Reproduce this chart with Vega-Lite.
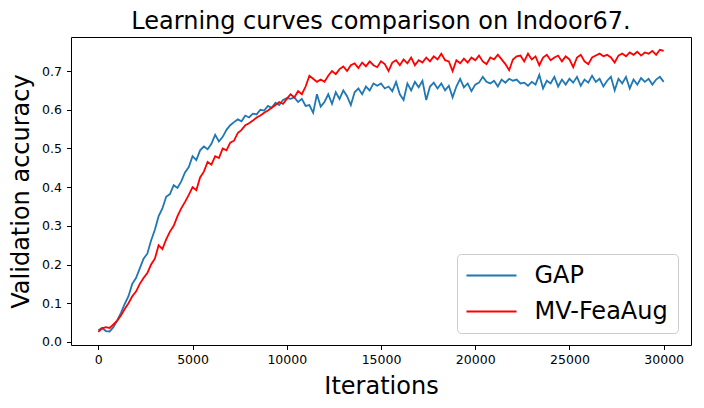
{
  "$schema": "https://vega.github.io/schema/vega-lite/v6.json",
  "autosize": {"type": "none"},
  "padding": {"left": 71, "top": 37, "right": 13, "bottom": 63},
  "width": 620,
  "height": 308,
  "background": "white",
  "title": {
    "text": "Learning curves comparison on Indoor67.",
    "font": "DejaVu Sans",
    "fontSize": 24,
    "fontWeight": "normal",
    "color": "black",
    "anchor": "middle",
    "frame": "group",
    "offset": 3
  },
  "config": {
    "view": {"stroke": "black", "strokeWidth": 1},
    "axis": {
      "domain": false,
      "grid": false,
      "ticks": true,
      "tickColor": "black",
      "tickSize": 4.5,
      "tickWidth": 1,
      "labelFont": "DejaVu Sans",
      "labelFontSize": 12.5,
      "labelColor": "black",
      "titleFont": "DejaVu Sans",
      "titleFontSize": 24,
      "titleFontWeight": "normal",
      "titleColor": "black"
    },
    "legend": {
      "orient": "none",
      "legendX": 386,
      "legendY": 217,
      "padding": 9.5,
      "fillColor": "white",
      "strokeColor": "#cccccc",
      "cornerRadius": 4,
      "symbolType": "M-5,0H5",
      "symbolSize": 100,
      "symbolStrokeWidth": 2,
      "symbolOffset": 13,
      "labelFont": "DejaVu Sans",
      "labelFontSize": 24,
      "labelColor": "black",
      "labelOffset": 31,
      "rowPadding": 12
    }
  },
  "data": {
    "values": [
      {"iteration": 0, "GAP": 0.030, "MV-FeaAug": 0.026},
      {"iteration": 200, "GAP": 0.036, "MV-FeaAug": 0.035},
      {"iteration": 400, "GAP": 0.028, "MV-FeaAug": 0.038},
      {"iteration": 600, "GAP": 0.027, "MV-FeaAug": 0.036},
      {"iteration": 800, "GAP": 0.038, "MV-FeaAug": 0.045},
      {"iteration": 1000, "GAP": 0.055, "MV-FeaAug": 0.055},
      {"iteration": 1200, "GAP": 0.075, "MV-FeaAug": 0.068},
      {"iteration": 1400, "GAP": 0.098, "MV-FeaAug": 0.085},
      {"iteration": 1600, "GAP": 0.118, "MV-FeaAug": 0.100},
      {"iteration": 1800, "GAP": 0.150, "MV-FeaAug": 0.118},
      {"iteration": 2000, "GAP": 0.165, "MV-FeaAug": 0.130},
      {"iteration": 2200, "GAP": 0.190, "MV-FeaAug": 0.150},
      {"iteration": 2400, "GAP": 0.215, "MV-FeaAug": 0.165},
      {"iteration": 2600, "GAP": 0.228, "MV-FeaAug": 0.178},
      {"iteration": 2800, "GAP": 0.262, "MV-FeaAug": 0.200},
      {"iteration": 3000, "GAP": 0.290, "MV-FeaAug": 0.215},
      {"iteration": 3200, "GAP": 0.325, "MV-FeaAug": 0.250},
      {"iteration": 3400, "GAP": 0.345, "MV-FeaAug": 0.240},
      {"iteration": 3600, "GAP": 0.375, "MV-FeaAug": 0.265},
      {"iteration": 3800, "GAP": 0.382, "MV-FeaAug": 0.285},
      {"iteration": 4000, "GAP": 0.405, "MV-FeaAug": 0.300},
      {"iteration": 4200, "GAP": 0.398, "MV-FeaAug": 0.325},
      {"iteration": 4400, "GAP": 0.415, "MV-FeaAug": 0.345},
      {"iteration": 4600, "GAP": 0.438, "MV-FeaAug": 0.362},
      {"iteration": 4800, "GAP": 0.452, "MV-FeaAug": 0.380},
      {"iteration": 5000, "GAP": 0.480, "MV-FeaAug": 0.400},
      {"iteration": 5200, "GAP": 0.470, "MV-FeaAug": 0.392},
      {"iteration": 5400, "GAP": 0.495, "MV-FeaAug": 0.425},
      {"iteration": 5600, "GAP": 0.505, "MV-FeaAug": 0.440},
      {"iteration": 5800, "GAP": 0.498, "MV-FeaAug": 0.465},
      {"iteration": 6000, "GAP": 0.512, "MV-FeaAug": 0.458},
      {"iteration": 6200, "GAP": 0.535, "MV-FeaAug": 0.480},
      {"iteration": 6400, "GAP": 0.518, "MV-FeaAug": 0.475},
      {"iteration": 6600, "GAP": 0.530, "MV-FeaAug": 0.500},
      {"iteration": 6800, "GAP": 0.548, "MV-FeaAug": 0.495},
      {"iteration": 7000, "GAP": 0.560, "MV-FeaAug": 0.515},
      {"iteration": 7200, "GAP": 0.568, "MV-FeaAug": 0.520},
      {"iteration": 7400, "GAP": 0.575, "MV-FeaAug": 0.540},
      {"iteration": 7600, "GAP": 0.570, "MV-FeaAug": 0.548},
      {"iteration": 7800, "GAP": 0.585, "MV-FeaAug": 0.560},
      {"iteration": 8000, "GAP": 0.580, "MV-FeaAug": 0.565},
      {"iteration": 8200, "GAP": 0.590, "MV-FeaAug": 0.572},
      {"iteration": 8400, "GAP": 0.588, "MV-FeaAug": 0.580},
      {"iteration": 8600, "GAP": 0.600, "MV-FeaAug": 0.585},
      {"iteration": 8800, "GAP": 0.598, "MV-FeaAug": 0.592},
      {"iteration": 9000, "GAP": 0.610, "MV-FeaAug": 0.598},
      {"iteration": 9200, "GAP": 0.605, "MV-FeaAug": 0.605},
      {"iteration": 9400, "GAP": 0.618, "MV-FeaAug": 0.612},
      {"iteration": 9600, "GAP": 0.612, "MV-FeaAug": 0.620},
      {"iteration": 9800, "GAP": 0.625, "MV-FeaAug": 0.615},
      {"iteration": 10000, "GAP": 0.630, "MV-FeaAug": 0.628},
      {"iteration": 10200, "GAP": 0.628, "MV-FeaAug": 0.640},
      {"iteration": 10400, "GAP": 0.632, "MV-FeaAug": 0.632},
      {"iteration": 10600, "GAP": 0.620, "MV-FeaAug": 0.648},
      {"iteration": 10800, "GAP": 0.628, "MV-FeaAug": 0.640},
      {"iteration": 11000, "GAP": 0.610, "MV-FeaAug": 0.660},
      {"iteration": 11200, "GAP": 0.612, "MV-FeaAug": 0.688},
      {"iteration": 11400, "GAP": 0.592, "MV-FeaAug": 0.680},
      {"iteration": 11600, "GAP": 0.640, "MV-FeaAug": 0.672},
      {"iteration": 11800, "GAP": 0.608, "MV-FeaAug": 0.678},
      {"iteration": 12000, "GAP": 0.620, "MV-FeaAug": 0.672},
      {"iteration": 12200, "GAP": 0.640, "MV-FeaAug": 0.688},
      {"iteration": 12400, "GAP": 0.615, "MV-FeaAug": 0.700},
      {"iteration": 12600, "GAP": 0.645, "MV-FeaAug": 0.692},
      {"iteration": 12800, "GAP": 0.628, "MV-FeaAug": 0.705},
      {"iteration": 13000, "GAP": 0.650, "MV-FeaAug": 0.712},
      {"iteration": 13200, "GAP": 0.635, "MV-FeaAug": 0.700},
      {"iteration": 13400, "GAP": 0.612, "MV-FeaAug": 0.715},
      {"iteration": 13600, "GAP": 0.645, "MV-FeaAug": 0.720},
      {"iteration": 13800, "GAP": 0.655, "MV-FeaAug": 0.708},
      {"iteration": 14000, "GAP": 0.640, "MV-FeaAug": 0.722},
      {"iteration": 14200, "GAP": 0.660, "MV-FeaAug": 0.712},
      {"iteration": 14400, "GAP": 0.650, "MV-FeaAug": 0.725},
      {"iteration": 14600, "GAP": 0.668, "MV-FeaAug": 0.715},
      {"iteration": 14800, "GAP": 0.662, "MV-FeaAug": 0.710},
      {"iteration": 15000, "GAP": 0.668, "MV-FeaAug": 0.725},
      {"iteration": 15200, "GAP": 0.655, "MV-FeaAug": 0.718},
      {"iteration": 15400, "GAP": 0.660, "MV-FeaAug": 0.700},
      {"iteration": 15600, "GAP": 0.648, "MV-FeaAug": 0.722},
      {"iteration": 15800, "GAP": 0.672, "MV-FeaAug": 0.728},
      {"iteration": 16000, "GAP": 0.640, "MV-FeaAug": 0.715},
      {"iteration": 16200, "GAP": 0.625, "MV-FeaAug": 0.730},
      {"iteration": 16400, "GAP": 0.668, "MV-FeaAug": 0.720},
      {"iteration": 16600, "GAP": 0.650, "MV-FeaAug": 0.735},
      {"iteration": 16800, "GAP": 0.672, "MV-FeaAug": 0.715},
      {"iteration": 17000, "GAP": 0.658, "MV-FeaAug": 0.728},
      {"iteration": 17200, "GAP": 0.675, "MV-FeaAug": 0.722},
      {"iteration": 17400, "GAP": 0.625, "MV-FeaAug": 0.735},
      {"iteration": 17600, "GAP": 0.660, "MV-FeaAug": 0.725},
      {"iteration": 17800, "GAP": 0.670, "MV-FeaAug": 0.738},
      {"iteration": 18000, "GAP": 0.655, "MV-FeaAug": 0.730},
      {"iteration": 18200, "GAP": 0.668, "MV-FeaAug": 0.745},
      {"iteration": 18400, "GAP": 0.650, "MV-FeaAug": 0.728},
      {"iteration": 18600, "GAP": 0.662, "MV-FeaAug": 0.725},
      {"iteration": 18800, "GAP": 0.632, "MV-FeaAug": 0.700},
      {"iteration": 19000, "GAP": 0.660, "MV-FeaAug": 0.728},
      {"iteration": 19200, "GAP": 0.680, "MV-FeaAug": 0.720},
      {"iteration": 19400, "GAP": 0.658, "MV-FeaAug": 0.732},
      {"iteration": 19600, "GAP": 0.668, "MV-FeaAug": 0.722},
      {"iteration": 19800, "GAP": 0.648, "MV-FeaAug": 0.735},
      {"iteration": 20000, "GAP": 0.665, "MV-FeaAug": 0.728},
      {"iteration": 20200, "GAP": 0.670, "MV-FeaAug": 0.740},
      {"iteration": 20400, "GAP": 0.685, "MV-FeaAug": 0.725},
      {"iteration": 20600, "GAP": 0.672, "MV-FeaAug": 0.718},
      {"iteration": 20800, "GAP": 0.668, "MV-FeaAug": 0.735},
      {"iteration": 21000, "GAP": 0.675, "MV-FeaAug": 0.730},
      {"iteration": 21200, "GAP": 0.660, "MV-FeaAug": 0.742},
      {"iteration": 21400, "GAP": 0.678, "MV-FeaAug": 0.730},
      {"iteration": 21600, "GAP": 0.670, "MV-FeaAug": 0.718},
      {"iteration": 21800, "GAP": 0.680, "MV-FeaAug": 0.702},
      {"iteration": 22000, "GAP": 0.675, "MV-FeaAug": 0.730},
      {"iteration": 22200, "GAP": 0.678, "MV-FeaAug": 0.738},
      {"iteration": 22400, "GAP": 0.668, "MV-FeaAug": 0.740},
      {"iteration": 22600, "GAP": 0.670, "MV-FeaAug": 0.725},
      {"iteration": 22800, "GAP": 0.662, "MV-FeaAug": 0.745},
      {"iteration": 23000, "GAP": 0.672, "MV-FeaAug": 0.730},
      {"iteration": 23200, "GAP": 0.665, "MV-FeaAug": 0.738},
      {"iteration": 23400, "GAP": 0.690, "MV-FeaAug": 0.715},
      {"iteration": 23600, "GAP": 0.655, "MV-FeaAug": 0.735},
      {"iteration": 23800, "GAP": 0.675, "MV-FeaAug": 0.742},
      {"iteration": 24000, "GAP": 0.668, "MV-FeaAug": 0.728},
      {"iteration": 24200, "GAP": 0.685, "MV-FeaAug": 0.735},
      {"iteration": 24400, "GAP": 0.660, "MV-FeaAug": 0.740},
      {"iteration": 24600, "GAP": 0.678, "MV-FeaAug": 0.725},
      {"iteration": 24800, "GAP": 0.665, "MV-FeaAug": 0.738},
      {"iteration": 25000, "GAP": 0.680, "MV-FeaAug": 0.730},
      {"iteration": 25200, "GAP": 0.670, "MV-FeaAug": 0.710},
      {"iteration": 25400, "GAP": 0.685, "MV-FeaAug": 0.735},
      {"iteration": 25600, "GAP": 0.662, "MV-FeaAug": 0.742},
      {"iteration": 25800, "GAP": 0.678, "MV-FeaAug": 0.725},
      {"iteration": 26000, "GAP": 0.670, "MV-FeaAug": 0.718},
      {"iteration": 26200, "GAP": 0.688, "MV-FeaAug": 0.735},
      {"iteration": 26400, "GAP": 0.672, "MV-FeaAug": 0.740},
      {"iteration": 26600, "GAP": 0.680, "MV-FeaAug": 0.745},
      {"iteration": 26800, "GAP": 0.660, "MV-FeaAug": 0.738},
      {"iteration": 27000, "GAP": 0.675, "MV-FeaAug": 0.742},
      {"iteration": 27200, "GAP": 0.685, "MV-FeaAug": 0.735},
      {"iteration": 27400, "GAP": 0.650, "MV-FeaAug": 0.722},
      {"iteration": 27600, "GAP": 0.680, "MV-FeaAug": 0.740},
      {"iteration": 27800, "GAP": 0.668, "MV-FeaAug": 0.745},
      {"iteration": 28000, "GAP": 0.685, "MV-FeaAug": 0.738},
      {"iteration": 28200, "GAP": 0.655, "MV-FeaAug": 0.748},
      {"iteration": 28400, "GAP": 0.678, "MV-FeaAug": 0.742},
      {"iteration": 28600, "GAP": 0.665, "MV-FeaAug": 0.750},
      {"iteration": 28800, "GAP": 0.682, "MV-FeaAug": 0.740},
      {"iteration": 29000, "GAP": 0.672, "MV-FeaAug": 0.748},
      {"iteration": 29200, "GAP": 0.680, "MV-FeaAug": 0.745},
      {"iteration": 29400, "GAP": 0.665, "MV-FeaAug": 0.752},
      {"iteration": 29600, "GAP": 0.678, "MV-FeaAug": 0.742},
      {"iteration": 29800, "GAP": 0.685, "MV-FeaAug": 0.755},
      {"iteration": 30000, "GAP": 0.672, "MV-FeaAug": 0.752}
    ]
  },
  "transform": [
    {"fold": ["GAP", "MV-FeaAug"], "as": ["series", "accuracy"]}
  ],
  "mark": {"type": "line", "strokeWidth": 1.8, "clip": true},
  "encoding": {
    "x": {
      "field": "iteration",
      "type": "quantitative",
      "scale": {"domain": [-1450, 31450], "nice": false, "zero": false},
      "axis": {
        "title": "Iterations",
        "values": [0, 5000, 10000, 15000, 20000, 25000, 30000],
        "format": "d",
        "labelPadding": 4,
        "titlePadding": 8
      }
    },
    "y": {
      "field": "accuracy",
      "type": "quantitative",
      "scale": {"domain": [-0.008, 0.788], "nice": false, "zero": false},
      "axis": {
        "title": "Validation accuracy",
        "values": [0, 0.1, 0.2, 0.3, 0.4, 0.5, 0.6, 0.7],
        "format": ".1f",
        "labelPadding": 5,
        "titlePadding": 8
      }
    },
    "color": {
      "field": "series",
      "type": "nominal",
      "scale": {"domain": ["GAP", "MV-FeaAug"], "range": ["#1f77b4", "#ff0000"]},
      "legend": {"title": null}
    }
  }
}
